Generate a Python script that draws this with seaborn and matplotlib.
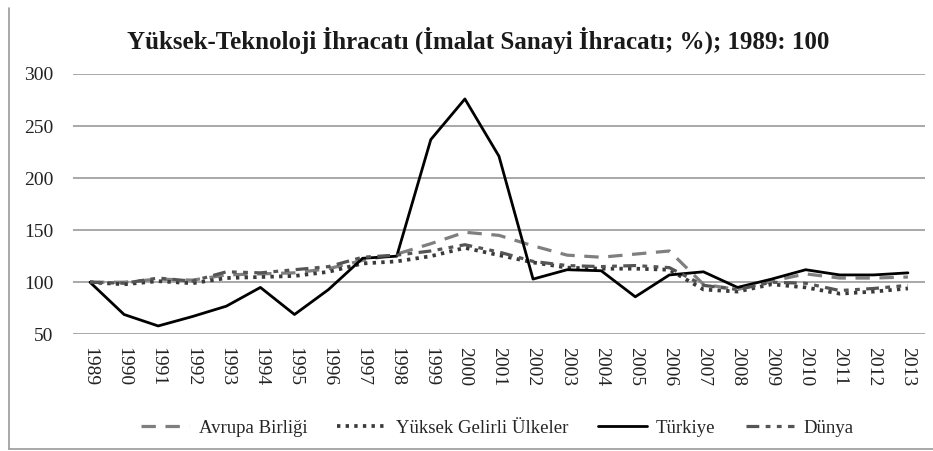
import matplotlib
matplotlib.use("Agg")
import matplotlib.pyplot as plt
from matplotlib.lines import Line2D
import pandas as pd
import seaborn as sns

# values (index, 1989 = 100)
years = list(range(1989, 2014))
avrupa = [100, 100, 103, 102, 107, 108, 109, 113, 121, 127, 137, 148, 145,
          135, 126, 124, 127, 130, 98, 93, 101, 108, 104, 104, 105]
yuksek_gelirli = [100, 98, 101, 99, 104, 105, 106, 110, 118, 120, 125, 133, 126,
                  119, 114, 113, 113, 112, 93, 91, 98, 95, 89, 91, 94]
turkiye = [100, 69, 58, 67, 77, 95, 69, 93, 123, 125, 237, 276, 221,
           103, 112, 111, 86, 107, 110, 95, 103, 112, 107, 107, 109]
dunya = [100, 99, 104, 101, 110, 109, 112, 115, 124, 126, 130, 136, 129,
         120, 116, 115, 116, 114, 97, 93, 100, 99, 92, 94, 97]

series_names = ["Avrupa Birliği", "Yüksek Gelirli Ülkeler", "Türkiye", "Dünya"]
y_ticks = [50, 100, 150, 200, 250, 300]

df = pd.DataFrame({
    "Yıl": years,
    "Avrupa Birliği": avrupa,
    "Yüksek Gelirli Ülkeler": yuksek_gelirli,
    "Türkiye": turkiye,
    "Dünya": dunya,
})

styles = {
    "Avrupa Birliği": dict(color="#7f7f7f", linewidth=2.3, linestyle=(0, (4.5, 3))),
    "Yüksek Gelirli Ülkeler": dict(color="#3a3a3a", linewidth=2.7, linestyle=(0, (0.9, 1.4))),
    "Türkiye": dict(color="#000000", linewidth=2.0, linestyle="-"),
    "Dünya": dict(color="#555555", linewidth=2.3, linestyle=(0, (4, 2, 1.5, 2, 1.5, 2))),
}

sns.set_theme(style="white")
plt.rcParams["font.family"] = ["Liberation Serif", "DejaVu Serif"]

fig = plt.figure(figsize=(9.33, 4.51), dpi=100)
ax = fig.add_axes([0.0782, 0.2588, 0.9132, 0.5772])

for name in series_names:
    sns.lineplot(data=df, x="Yıl", y=name, ax=ax, label=name, legend=False,
                 **styles[name])

ax.set_xlim(years[0] - 0.5, years[-1] + 0.5)
ax.set_ylim(50, 300)
ax.set_yticks(y_ticks)
ax.set_xticks(years)
ax.set_xticklabels([str(y) for y in years], rotation=-90, fontsize=14)
ax.set_yticklabels([str(v) for v in y_ticks], fontsize=14)
ax.tick_params(axis="both", length=0, colors="#222222")
ax.tick_params(axis="x", pad=9)
ax.tick_params(axis="y", pad=14)
ax.set_xlabel("")
ax.set_ylabel("")

ax.yaxis.grid(True, color="#a8a8a8", linewidth=1.4)
ax.xaxis.grid(False)
for side in ["left", "right", "top", "bottom"]:
    ax.spines[side].set_visible(False)
ax.set_axisbelow(True)

fig.text(0.512, 0.911, "Yüksek-Teknoloji İhracatı (İmalat Sanayi İhracatı; %); 1989: 100",
         ha="center", va="center", fontsize=18, fontweight="bold", color="#1a1a1a")

handles = [Line2D([0], [0], **styles[n]) for n in series_names]
fig.legend(handles, series_names, loc="center", bbox_to_anchor=(0.533, 0.051),
           ncol=4, frameon=False, fontsize=13.5, handlelength=2.6,
           handletextpad=0.5, columnspacing=1.6)

# thin frame on the left and bottom, as in the scanned figure
fig.add_artist(Line2D([0.0097, 0.0097], [0.004, 0.982], color="#9a9a9a", linewidth=1.2))
fig.add_artist(Line2D([0.0097, 1.0], [0.004, 0.004], color="#9a9a9a", linewidth=1.2))

fig.savefig("out.png", dpi=100)
